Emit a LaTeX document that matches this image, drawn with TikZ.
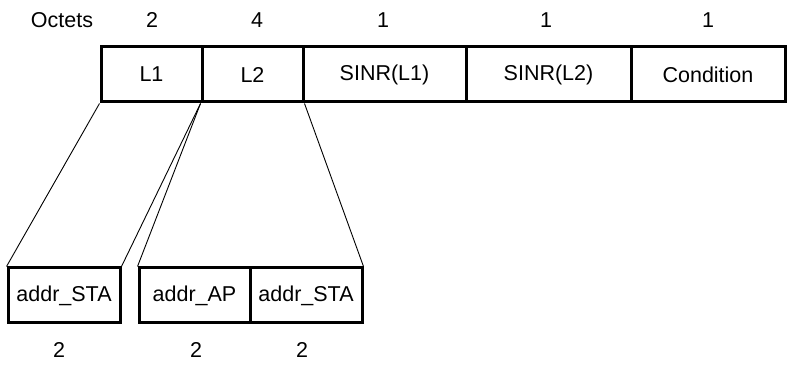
\documentclass[tikz,border=0pt]{standalone}
\usepackage{fontspec}
\setmainfont{Liberation Sans}
\tikzstyle{box}=[rectangle,draw,line width=3pt,inner sep=0pt,minimum height=55pt]
\tikzstyle{lbl}=[inner sep=0pt]

\begin{document}
\begin{tikzpicture}[x=1pt,y=-1pt,line width=0.9pt,font=\fontsize{21.5}{25}\selectfont]
\useasboundingbox (0,0) rectangle (788,366);
\node[lbl] (oct) at (62,20) {Octets};
\node[lbl] (n1) at (152,20) {2};
\node[lbl] (n2) at (257,20) {4};
\node[lbl] (n3) at (383,20) {1};
\node[lbl] (n4) at (546,20) {1};
\node[lbl] (n5) at (708,20) {1};

\node[box,minimum width=101pt] (l1) at (151.5,74.5) {L1};
\node[box,minimum width=101pt] (l2) at (252.5,74.5) {L2};
\node[box,minimum width=163pt] (s1) at (384.5,74.5) {SINR(L1)};
\node[box,minimum width=165pt] (s2) at (548.5,74.5) {SINR(L2)};
\node[box,minimum width=154pt] (cond) at (708,74.5) {Condition};

\node[box,minimum width=112pt] (sta1) at (64,295.5) {addr\_STA};
\node[box,minimum width=111pt] (ap) at (194.5,295.5) {addr\_AP};
\node[box,minimum width=112pt] (sta2) at (306,295.5) {addr\_STA};

\node[lbl] (m1) at (59,350) {2};
\node[lbl] (m2) at (196,350) {2};
\node[lbl] (m3) at (302,350) {2};

\draw (l1.south west) -- (sta1.north west);
\draw (l2.south west) -- (sta1.north east);
\draw (l2.south west) -- (ap.north west);
\draw (l2.south east) -- (sta2.north east);
\end{tikzpicture}
\end{document}
